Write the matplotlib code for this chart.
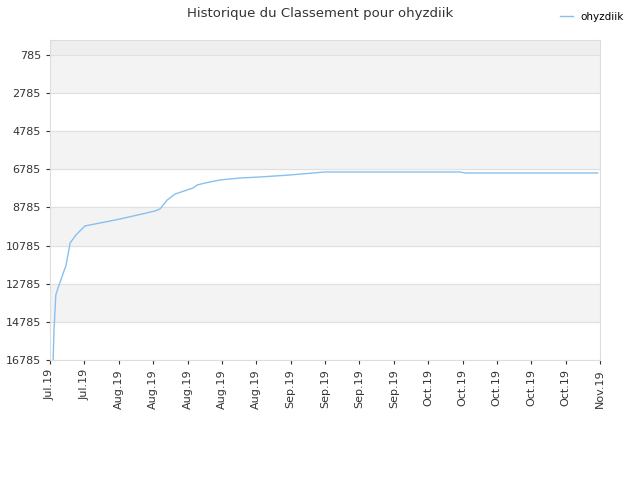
import numpy as np
import pandas as pd
import matplotlib
matplotlib.use("Agg")
import matplotlib.pyplot as plt

# data: days since 2019-07-01, rank
days = [0.7, 0.9, 1.3, 1.8, 3.6, 4.5, 5.8, 7.8, 15.7, 23.5, 24.6, 26.2, 28, 32, 32.9,
        34.7, 38, 42.5, 47, 53.7, 61.5, 91.7, 92.8, 122.5]
ranks = [16785, 15212, 13375, 13008, 11802, 10647, 10228, 9756, 9388, 8969, 8864, 8392,
         8077, 7762, 7605, 7500, 7343, 7238, 7185, 7080, 6923, 6923, 6975, 6975]
tick_labels = ["Jul.19", "Jul.19", "Aug.19", "Aug.19", "Aug.19", "Aug.19", "Aug.19",
               "Sep.19", "Sep.19", "Sep.19", "Sep.19", "Oct.19", "Oct.19", "Oct.19",
               "Oct.19", "Oct.19", "Nov.19"]
yticks = list(range(785, 16786, 2000))

start = pd.Timestamp("2019-07-01")
end = pd.Timestamp("2019-11-01")
dates = [start + pd.Timedelta(days=d) for d in days]

fig = plt.figure(figsize=(6.4, 4.8), dpi=100)
ax = fig.add_axes([50 / 640, 120 / 480, 550 / 640, 320 / 480])

ax.axhspan(0, 785, color="#eeeeee", zorder=0)
for lo, hi in [(785, 2785), (4785, 6785), (8785, 10785), (12785, 14785)]:
    ax.axhspan(lo, hi, color="#f3f3f3", zorder=0)
for y in yticks:
    ax.axhline(y, color="#e0e0e0", lw=0.8, zorder=0)

ax.plot(dates, ranks, color="#88c0f0", lw=1, label="ohyzdiik", zorder=2)

ax.set_ylim(16785, 0)
ax.set_yticks(yticks)
ax.set_xlim(start, end)
ax.set_xticks(pd.date_range(start, end, periods=17))
ax.set_xticklabels(tick_labels, rotation=90)
ax.tick_params(labelsize=8, colors="#333333", length=3)
for s in ax.spines.values():
    s.set_color("#dddddd")

fig.suptitle("Historique du Classement pour ohyzdiik", x=0.5, y=0.985, fontsize=9.5, color="#333333")
fig.legend(loc="upper right", bbox_to_anchor=(0.99, 0.995), frameon=False, fontsize=7.5,
           handlelength=1.2)

fig.savefig("out.png")
